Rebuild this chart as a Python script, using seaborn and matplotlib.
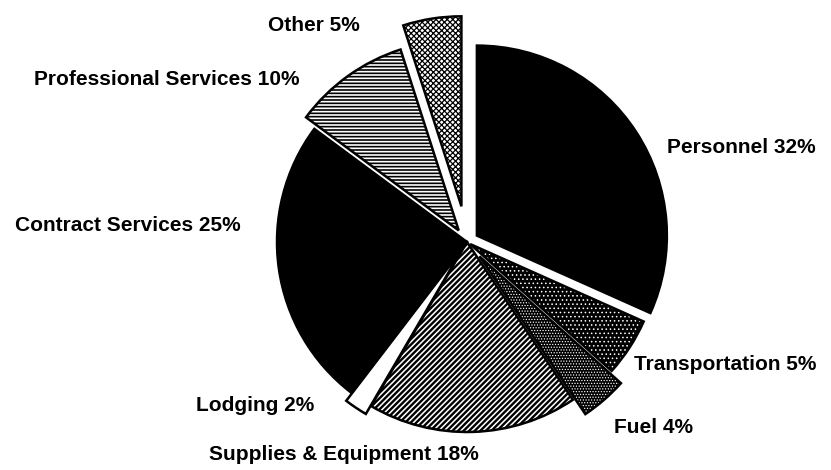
import numpy as np
import matplotlib
matplotlib.use("Agg")
import matplotlib.pyplot as plt
import seaborn as sns

# data, clockwise from the top
categories = ["Personnel", "Transportation", "Fuel", "Supplies & Equipment",
              "Lodging", "Contract Services", "Professional Services", "Other"]
shares = [32, 5, 4, 18, 2, 25, 10, 5]

# styling per wedge (hatch colour = edge colour of the fill layer)
explode = [0.062, 0.02, 0.1, 0.0, 0.05, 0.0, 0.075, 0.19]
faces = ["black", "black", "black", "white", "white", "black", "black", "white"]
hatch_colors = ["black", "white", "white", "black", "black", "black", "white", "black"]
hatches = [None, "....", "......", "//////", None, None, "-----", "xxxxxx"]
hatch_lw = [1.0, 0.6, 0.55, 1.7, 1.0, 1.0, 1.2, 0.9]

# label anchor points (data units, pie radius = 1)
label_pos = [(1.445, 0.495), (1.361, -0.647), (0.982, -0.974), (-0.650, -1.121),
             (-1.113, -0.863), (-1.787, 0.089), (-1.579, 0.853), (-0.808, 1.142)]

sns.set_theme(style="white")
plt.rcParams["font.family"] = ["Liberation Sans Narrow", "Liberation Sans", "DejaVu Sans"]
plt.rcParams["hatch.linewidth"] = 1.2

fig = plt.figure(figsize=(8.31, 4.70), dpi=100)
ax = fig.add_axes([0, 0, 1, 1])

# fill layer with hatching
wedges, _ = ax.pie(shares, explode=explode, startangle=90, counterclock=False,
                   radius=1.0, wedgeprops=dict(linewidth=0))
for w, fc, hc, h, hl in zip(wedges, faces, hatch_colors, hatches, hatch_lw):
    w.set_facecolor(fc)
    w.set_edgecolor(hc)
    if h:
        w.set_hatch(h)
        if hasattr(w, "set_hatch_linewidth"):
            w.set_hatch_linewidth(hl)

# outline layer
ax.pie(shares, explode=explode, startangle=90, counterclock=False, radius=1.0,
       wedgeprops=dict(facecolor="none", edgecolor="black", linewidth=1.8))

for name, val, (x, y) in zip(categories, shares, label_pos):
    ax.text(x, y, f"{name} {val}%", ha="center", va="center",
            fontsize=15, fontweight="heavy", color="black")

# center of pie at (467, 242) px, radius 190 px
r = 190.0
ax.set_xlim(-467 / r, (831 - 467) / r)
ax.set_ylim(-(470 - 242) / r, 242 / r)
ax.set_aspect("equal", adjustable="box")
ax.axis("off")

fig.savefig("out.png", dpi=100)
